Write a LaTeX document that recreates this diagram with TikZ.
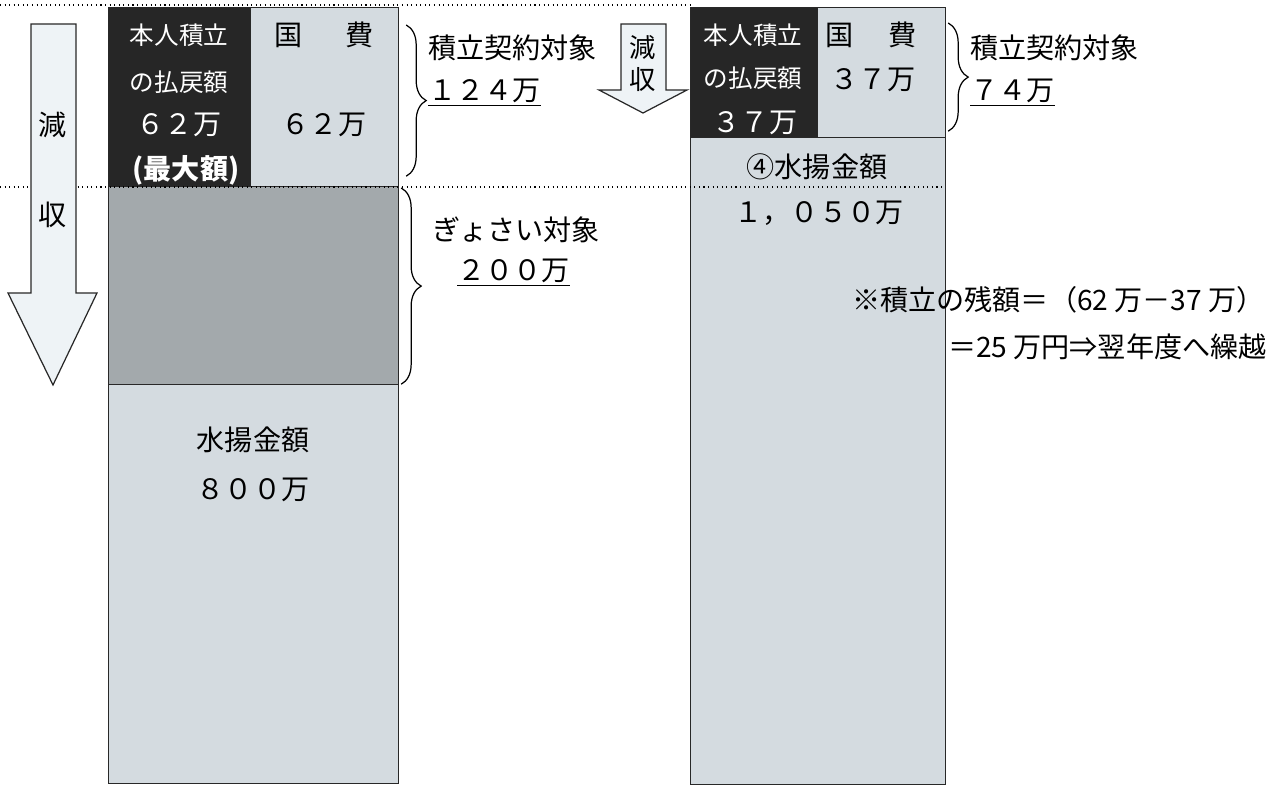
\documentclass[tikz,border=0pt]{standalone}
\usepackage{fontspec}
\setmainfont{Noto Sans CJK JP}
\usepackage{xcolor}
\usepackage{tikz}
\usetikzlibrary{decorations.pathreplacing}

\definecolor{edge}{RGB}{40,40,40}
\definecolor{darkcell}{RGB}{38,38,38}
\definecolor{lightcell}{RGB}{212,219,224}
\definecolor{midcell}{RGB}{163,169,172}
\definecolor{arrowfill}{RGB}{238,243,246}

\begin{document}
\begin{tikzpicture}[
        x=0.02cm, y=-0.02cm,
        cell/.style={rectangle, draw=edge, line width=0.7pt, inner sep=0pt, anchor=north west},
        dark/.style={cell, fill=darkcell},
        light/.style={cell, fill=lightcell},
        mid/.style={cell, fill=midcell},
        big/.style={font=\fontsize{16}{18}\selectfont, inner sep=0pt},
        small/.style={font=\fontsize{14}{16}\selectfont, inner sep=0pt},
        inv/.style={text=white},
        label/.style={big, anchor=west},
        blockarrow/.style={draw=edge, fill=arrowfill, line width=0.7pt},
        level/.style={dotted, line width=0.6pt},
        curly/.style={decorate, decoration={brace, amplitude=0.4cm}, line width=0.7pt}
    ]
        \useasboundingbox (0,0) rectangle (1276,786);

        % Upper level line
        \draw[level] (0,5) -- (690,5);

        % Left column
        \node[dark, minimum width=2.84cm, minimum height=3.58cm] (ldark) at (108,7) {};
        \node[light, minimum width=2.96cm, minimum height=3.58cm] (lfee) at (250,7) {};
        \node[mid, minimum width=5.8cm, minimum height=3.96cm] (lmid) at (108,186) {};
        \node[light, minimum width=5.8cm, minimum height=7.98cm] (llow) at (108,384) {};

        % Right column
        \node[dark, minimum width=2.54cm, minimum height=2.6cm] (rdark) at (690,7) {};
        \node[light, minimum width=2.56cm, minimum height=2.6cm] (rfee) at (817,7) {};
        \node[light, minimum width=5.1cm, minimum height=12.94cm] (rlow) at (690,137) {};

        % Lower level line
        \draw[level] (0,187) -- (943,187);

        % Texts of the left column
        \node[small, inv] (ldark1) at (179,35) {本人積立};
        \node[small, inv] (ldark2) at (179,82) {の払戻額};
        \node[big, inv] (ldark3) at (179,125) {６２万};
        \node[big, inv, font=\fontsize{16}{18}\selectfont\bfseries] (ldark4) at (186,170) {(最大額)};
        \node[big] (lfee1) at (324,35) {国\hspace{1.55em}費};
        \node[big] (lfee2) at (324,125) {６２万};
        \node[big] (llow1) at (253,440) {水揚金額};
        \node[big] (llow2) at (253,490) {８００万};

        % Texts of the right column
        \node[small, inv] (rdark1) at (753,35) {本人積立};
        \node[small, inv] (rdark2) at (753,78) {の払戻額};
        \node[big, inv] (rdark3) at (755,123) {３７万};
        \node[big] (rfee1) at (871,35) {国\hspace{1.25em}費};
        \node[big] (rfee2) at (873,80) {３７万};
        \node[big] (rlow1) at (817,167) {④水揚金額};
        \node[big] (rlow2) at (819,213) {１，０５０万};

        % Arrows for the fall in income
        \draw[blockarrow] (31,24) -- (76,24) -- (76,293) -- (97,293) -- (53,385) -- (8,293) -- (31,293) -- cycle;
        \node[big] (lfall1) at (53,125) {減};
        \node[big] (lfall2) at (53,215) {収};
        \draw[blockarrow] (621,24) -- (666,24) -- (666,90) -- (687,90) -- (643,113) -- (599,90) -- (621,90) -- cycle;
        \node[big, font=\fontsize{15}{17}\selectfont] (mfall1) at (643,48) {減};
        \node[big, font=\fontsize{15}{17}\selectfont] (mfall2) at (643,80) {収};

        % Braces
        \draw[curly] ([shift={(7,18)}]lfee.north east) -- ([shift={(7,-11)}]lfee.south east);
        \draw[curly] ([shift={(2,2)}]lmid.north east) -- ([shift={(2,-1)}]lmid.south east);
        \draw[curly] ([shift={(2,16)}]rfee.north east) -- ([shift={(2,-7)}]rfee.south east);

        % Labels
        \node[label] (ltop1) at (428,48) {積立契約対象};
        \node[label] (ltop2) at (428,93) {\underline{１２４万}};
        \node[label] (lmid1) at (432,230) {ぎょさい対象};
        \node[label] (lmid2) at (457,273) {\underline{２００万}};
        \node[label] (rtop1) at (970,48) {積立契約対象};
        \node[label] (rtop2) at (970,93) {\underline{７４万}};

        % Note
        \node[big, anchor=east] (note1) at (1265,300) {※積立の残額＝（62 万－37 万）};
        \node[big, anchor=east] (note2) at (1267,347) {＝25 万円⇒翌年度へ繰越};
    \end{tikzpicture}
\end{document}
